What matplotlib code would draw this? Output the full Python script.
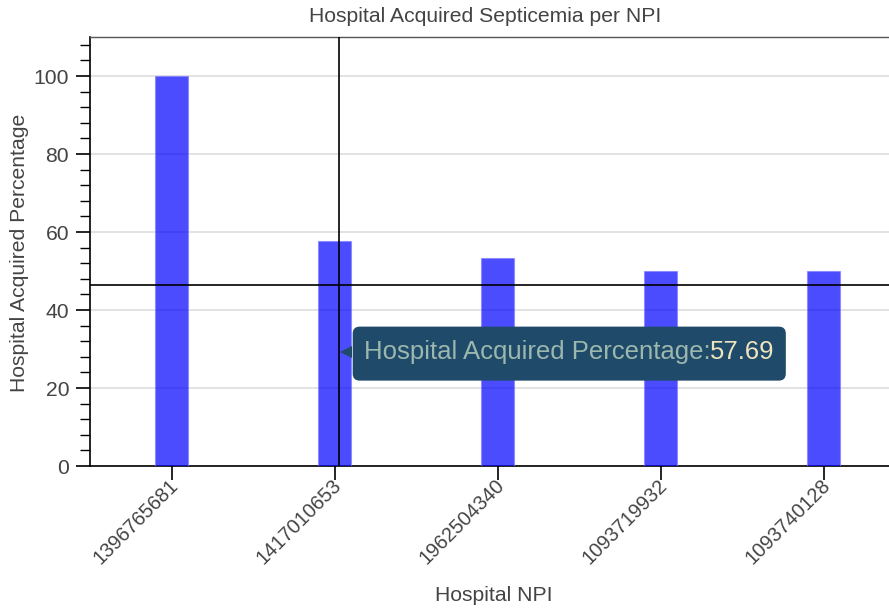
import numpy as np
import matplotlib
matplotlib.use("Agg")
import matplotlib.pyplot as plt
from matplotlib.ticker import MultipleLocator
from matplotlib.patches import FancyBboxPatch
import matplotlib.transforms as mtransforms

# ── Data ──────────────────────────────────────────────────────────────────────
npis = ["1396765681", "1417010653", "1962504340", "1093719932", "1093740128"]
pct = [100.0, 57.69, 53.33, 50.0, 50.0]

# crosshair / hover state captured in the screenshot
cursor_x = 1.03
cursor_y = 46.3
tip_y = 29.2
hover_label = "Hospital Acquired Percentage:"
hover_value = "57.69"

plt.rcParams['font.family'] = ['Liberation Sans', 'DejaVu Sans']

TXT = '#444444'
TIP_BG = '#1f4a69'
FS = 15.2

fig = plt.figure(figsize=(8.89, 6.12), dpi=100)
ax = fig.add_axes([90 / 889, 146 / 612, 815 / 889, 429 / 612])

x = np.arange(len(npis))
ax.bar(x, pct, width=0.2, color='blue', alpha=0.7, edgecolor='#8080ff',
       linewidth=0.8, zorder=3)

ax.set_xlim(-0.5, len(npis) - 0.5)
ax.set_ylim(0, 110)

# ── grid & axes ──────────────────────────────────────────────────────────────
ax.yaxis.set_major_locator(MultipleLocator(20))
ax.yaxis.set_minor_locator(MultipleLocator(4))
ax.grid(axis='y', which='major', color='#dddddd', linewidth=1.2, zorder=0)
ax.set_axisbelow(True)

for s in ['left', 'bottom']:
    ax.spines[s].set_color('black')
    ax.spines[s].set_linewidth(1.2)
ax.spines['top'].set_color('#555555')
ax.spines['top'].set_linewidth(1.0)
ax.spines['right'].set_visible(False)

ax.tick_params(axis='y', which='major', direction='out', length=10, width=1.2,
               labelsize=FS, labelcolor=TXT, pad=5)
ax.tick_params(axis='y', which='minor', direction='out', length=7, width=1.0)
ax.tick_params(axis='x', which='major', direction='out', length=10, width=1.2,
               labelsize=14.4, labelcolor=TXT, pad=-3)

ax.set_xticks(x)
ax.set_xticklabels(npis, rotation=45, ha='right', va='top', rotation_mode='anchor')
offset = mtransforms.ScaledTranslation(-3 / 100, 0, fig.dpi_scale_trans)
for lbl in ax.get_xticklabels():
    lbl.set_transform(lbl.get_transform() + offset)

ax.set_xlabel("Hospital NPI", fontsize=FS, color=TXT, va='center')
ax.xaxis.set_label_coords(0.495, -0.303)
ax.set_ylabel("Hospital Acquired Percentage", fontsize=FS, color=TXT, va='center')
ax.yaxis.set_label_coords(-0.086, 0.497)
fig.text(485 / 889, 1 - 16 / 612, "Hospital Acquired Septicemia per NPI",
         ha='center', va='center', fontsize=FS, color=TXT)

# ── crosshair ────────────────────────────────────────────────────────────────
ax.axvline(cursor_x, color='black', linewidth=1.2, zorder=5)
ax.axhline(cursor_y, color='black', linewidth=1.2, zorder=5)

# ── tooltip ──────────────────────────────────────────────────────────────────
TIP_FS = 18.5
t_lab = ax.annotate(hover_label, xy=(cursor_x, tip_y), xytext=(17.5, 0),
                    textcoords='offset points', ha='left', va='center',
                    fontsize=TIP_FS, color='#9bb7ae', zorder=9)
t_val = ax.annotate(hover_value, xy=(1, 0.5), xycoords=t_lab, ha='left', va='center',
                    fontsize=TIP_FS, color='#efe4bd', zorder=9)

fig.canvas.draw()
r = fig.canvas.get_renderer()
bb = mtransforms.Bbox.union([t_lab.get_window_extent(r), t_val.get_window_extent(r)])
cy = (bb.y0 + bb.y1) / 2 - 1.5
box = FancyBboxPatch((bb.x0 - 11, cy - 27), bb.width + 22, 54,
                     boxstyle='round,pad=0,rounding_size=7',
                     fc=TIP_BG, ec='none', transform=mtransforms.IdentityTransform(),
                     zorder=8)
ax.add_artist(box)
ax.plot([cursor_x], [tip_y], marker='<', markersize=8.6, color=TIP_BG,
        markeredgewidth=0, zorder=8, transform=ax.transData +
        mtransforms.ScaledTranslation(7 / 100, 0, fig.dpi_scale_trans))

fig.savefig('out.png', dpi=100)
